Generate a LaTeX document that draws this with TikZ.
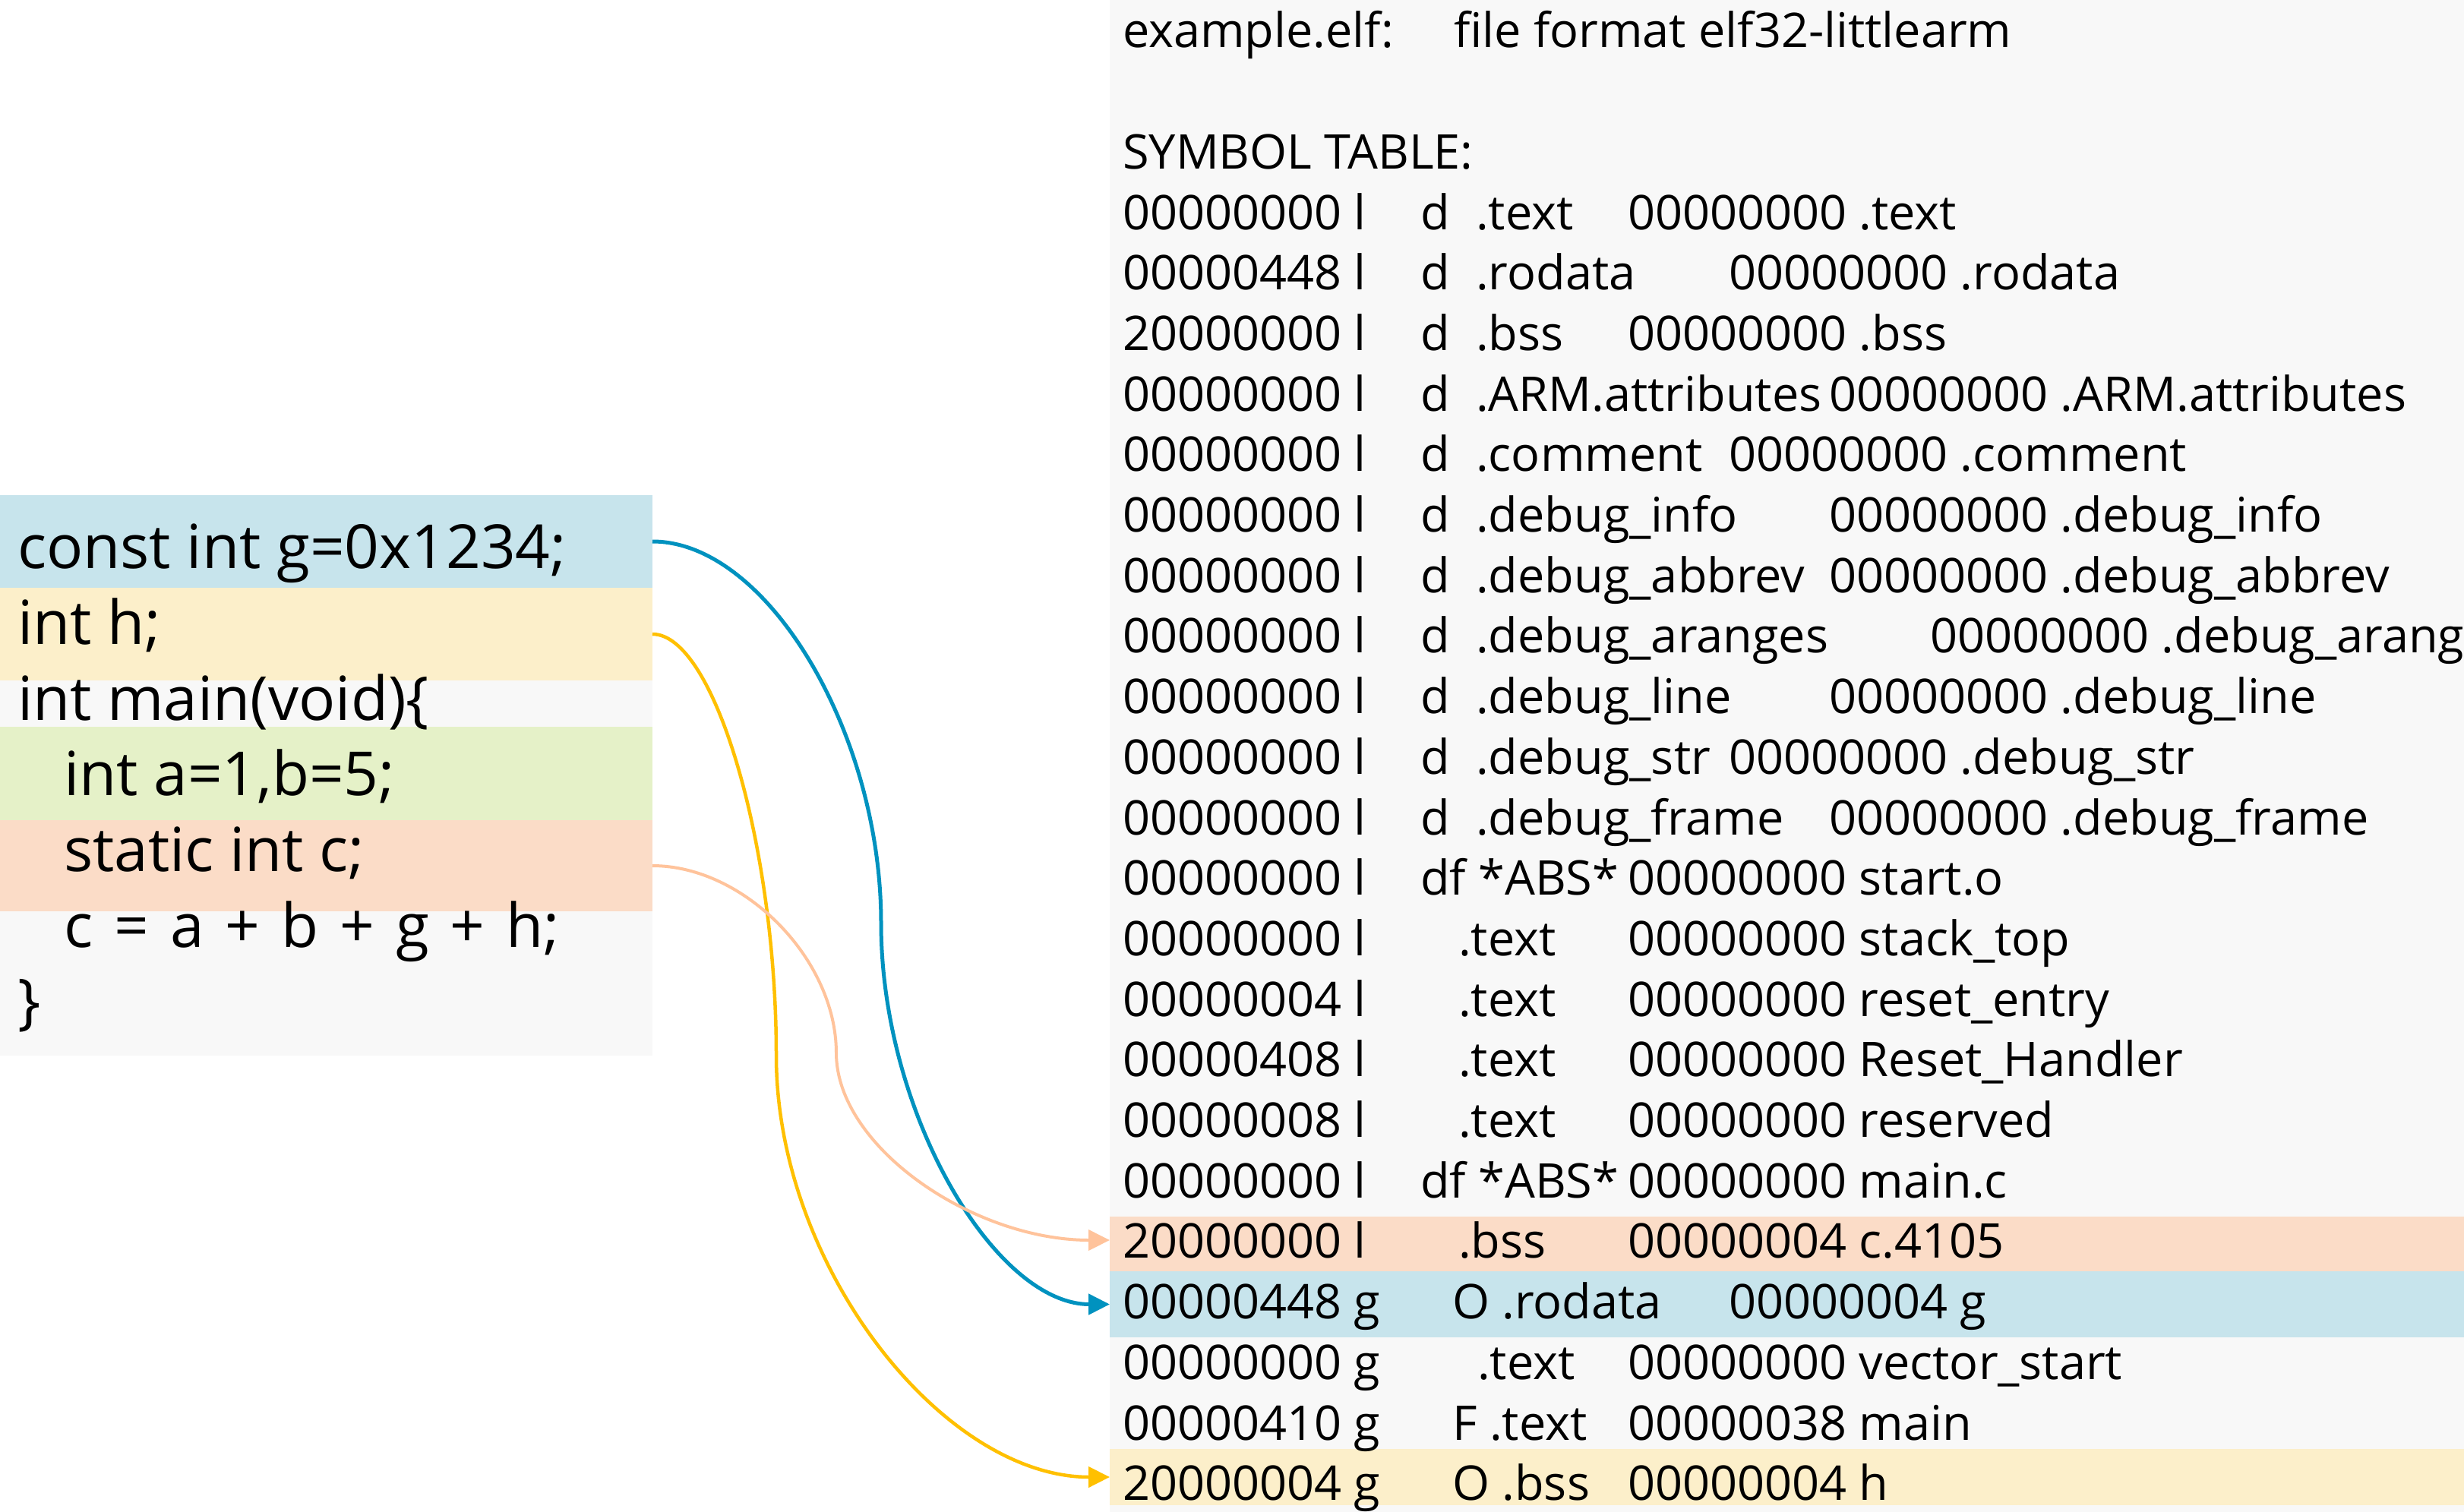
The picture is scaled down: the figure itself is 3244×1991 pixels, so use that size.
\documentclass[tikz,border=0pt]{standalone}
\usepackage{fontspec}
\setmainfont{Open Sans}
\usetikzlibrary{arrows.meta}
\definecolor{panelgray}{HTML}{F8F8F8}
\definecolor{bandblue}{HTML}{C7E4EC}
\definecolor{bandyellow}{HTML}{FCEFCA}
\definecolor{bandgreen}{HTML}{E5F1C8}
\definecolor{bandpeach}{HTML}{FBDCC7}
\definecolor{lineblue}{HTML}{0092BF}
\definecolor{lineyellow}{HTML}{FFC000}
\definecolor{linepeach}{HTML}{FFC39B}
\newcommand{\symfont}{\fontsize{63}{75}\selectfont}
\newcommand{\codefont}{\fontsize{80}{96}\selectfont}
\tikzset{
  band/.style={anchor=north west, inner sep=0pt, outer sep=0pt, draw=none},
  st/.style={anchor=base west, inner sep=0pt, font=\symfont, text=black},
  ct/.style={anchor=base west, inner sep=0pt, font=\codefont, text=black},
  conn/.style={-{Triangle[length=28pt,width=27pt]}},
}
\begin{document}
\begin{tikzpicture}[x=1pt,y=-1pt]
\useasboundingbox (0,0) rectangle (3244,1991);
% ---------- left code panel ----------
\node[band, fill=panelgray, minimum width=859pt, minimum height=738pt] (lpanel) at (0,652) {};
\node[band, fill=bandblue,   minimum width=859pt, minimum height=122pt] (lg) at (0,652) {};
\node[band, fill=bandyellow, minimum width=859pt, minimum height=122pt] (lh) at (0,774) {};
\node[band, fill=bandgreen,  minimum width=859pt, minimum height=123pt] (lab) at (0,957) {};
\node[band, fill=bandpeach,  minimum width=859pt, minimum height=120pt] (lc) at (0,1080) {};
\node[ct] (c1) at (23,748)  {const int g=0x1234;};
\node[ct] (c2) at (23,848)  {int h;};
\node[ct] (c3) at (23,948)  {int main(void)\{};
\node[ct] (c4) at (84,1047) {int a=1,b=5;};
\node[ct] (c5) at (84,1147) {static int c;};
\node[ct] (c6) at (84,1247) {\spaceskip=28pt c = a + b + g + h;};
\node[ct] (c7) at (23,1346) {\}};
% ---------- right symbol table panel ----------
\node[band, fill=panelgray, minimum width=1783pt, minimum height=1991pt] (rpanel) at (1461,0) {};
\node[band, fill=bandpeach,  minimum width=1783pt, minimum height=72pt] (rc) at (1461,1602) {};
\node[band, fill=bandblue,   minimum width=1783pt, minimum height=87pt] (rg) at (1461,1674) {};
\node[band, fill=bandyellow, minimum width=1783pt, minimum height=74pt] (rh) at (1461,1908) {};
\begin{scope}
\clip (1461,0) rectangle (3244,1991);
\node[st] (hd1) at (1478,63) {example.elf:};
\node[st] (hd2) at (1914,63) {file format elf32-littlearm};
\node[st] (hd3) at (1478,222) {SYMBOL TABLE:};
\foreach \t [count=\i from 0] in {00000000 l,00000448 l,20000000 l,00000000 l,00000000 l,00000000 l,00000000 l,00000000 l,00000000 l,00000000 l,00000000 l,00000000 l,00000000 l,00000004 l,00000408 l,00000008 l,00000000 l,20000000 l,00000448 g,00000000 g,00000410 g,20000004 g}
  \node[st] (a\i) at (1478,{302+79.7*\i}) {\t};
% flags
\foreach \i in {0,...,10}
  \node[st] (d\i) at (1870,{302+79.7*\i}) {d};
\node[st] (d11) at (1870,{302+79.7*11}) {df *ABS*};
\node[st] (d16) at (1870,{302+79.7*16}) {df *ABS*};
% sections
\node[st] (s0)  at (1943,{302+79.7*0})  {.text};
\node[st] (s1)  at (1943,{302+79.7*1})  {.rodata};
\node[st] (s2)  at (1943,{302+79.7*2})  {.bss};
\node[st] (s3)  at (1943,{302+79.7*3})  {.ARM.attributes};
\node[st] (s4)  at (1943,{302+79.7*4})  {.comment};
\node[st] (s5)  at (1943,{302+79.7*5})  {.debug\_info};
\node[st] (s6)  at (1943,{302+79.7*6})  {.debug\_abbrev};
\node[st] (s7)  at (1943,{302+79.7*7})  {.debug\_aranges};
\node[st] (s8)  at (1943,{302+79.7*8})  {.debug\_line};
\node[st] (s9)  at (1943,{302+79.7*9})  {.debug\_str};
\node[st] (s10) at (1943,{302+79.7*10}) {.debug\_frame};
\node[st] (s12) at (1920,{302+79.7*12}) {.text};
\node[st] (s13) at (1920,{302+79.7*13}) {.text};
\node[st] (s14) at (1920,{302+79.7*14}) {.text};
\node[st] (s15) at (1920,{302+79.7*15}) {.text};
\node[st] (s17) at (1920,{302+79.7*17}) {.bss};
\node[st] (s18) at (1912,{302+79.7*18}) {O .rodata};
\node[st] (s19) at (1945,{302+79.7*19}) {.text};
\node[st] (s20) at (1912,{302+79.7*20}) {F .text};
\node[st] (s21) at (1912,{302+79.7*21}) {O .bss};
% size and name
\node[st] (n0)  at (2143,{302+79.7*0})  {00000000 .text};
\node[st] (n1)  at (2276,{302+79.7*1})  {00000000 .rodata};
\node[st] (n2)  at (2143,{302+79.7*2})  {00000000 .bss};
\node[st] (n3)  at (2408,{302+79.7*3})  {00000000 .ARM.attributes};
\node[st] (n4)  at (2276,{302+79.7*4})  {00000000 .comment};
\node[st] (n5)  at (2408,{302+79.7*5})  {00000000 .debug\_info};
\node[st] (n6)  at (2408,{302+79.7*6})  {00000000 .debug\_abbrev};
\node[st] (n7)  at (2541,{302+79.7*7})  {00000000 .debug\_aranges};
\node[st] (n8)  at (2408,{302+79.7*8})  {00000000 .debug\_line};
\node[st] (n9)  at (2276,{302+79.7*9})  {00000000 .debug\_str};
\node[st] (n10) at (2408,{302+79.7*10}) {00000000 .debug\_frame};
\node[st] (n11) at (2143,{302+79.7*11}) {00000000 start.o};
\node[st] (n12) at (2143,{302+79.7*12}) {00000000 stack\_top};
\node[st] (n13) at (2143,{302+79.7*13}) {00000000 reset\_entry};
\node[st] (n14) at (2143,{302+79.7*14}) {00000000 Reset\_Handler};
\node[st] (n15) at (2143,{302+79.7*15}) {00000000 reserved};
\node[st] (n16) at (2143,{302+79.7*16}) {00000000 main.c};
\node[st] (n17) at (2143,{302+79.7*17}) {00000004 c.4105};
\node[st] (n18) at (2276,{302+79.7*18}) {00000004 g};
\node[st] (n19) at (2143,{302+79.7*19}) {00000000 vector\_start};
\node[st] (n20) at (2143,{302+79.7*20}) {00000038 main};
\node[st] (n21) at (2143,{302+79.7*21}) {00000004 h};
\end{scope}
% ---------- connectors ----------
\coordinate (mg) at (1160,1215.5);
\coordinate (mh) at (1022,1390);
\coordinate (mc) at (1101,1386.5);
\draw[conn, draw=lineblue, line width=5pt]
  (lg.east) .. controls +(150.5,0) and +(0,-251.25) .. (mg)
            .. controls +(0,251.25) and +(-150.5,0) .. (rg.west);
\draw[conn, draw=lineyellow, line width=4.5pt]
  (lh.east) .. controls +(81.5,0) and +(0,-277.5) .. (mh)
            .. controls +(0,277.5) and +(-219.5,0) .. (rh.west);
\draw[conn, draw=linepeach, line width=4pt]
  (lc.east) .. controls +(121,0) and +(0,-123.25) .. (mc)
            .. controls +(0,123.25) and +(-180,0) .. ([yshift=5pt]rc.west);
\end{tikzpicture}
\end{document}
